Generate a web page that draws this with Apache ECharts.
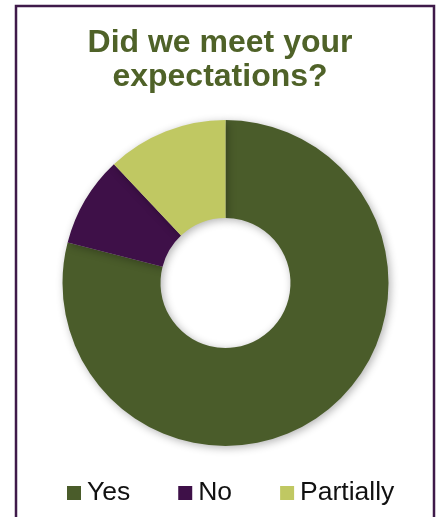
<!DOCTYPE html>
<html>
<head>
<meta charset="utf-8">
<script src="https://cdn.jsdelivr.net/npm/echarts@6/dist/echarts.min.js"></script>
<style>
html,body{margin:0;padding:0;background:#fff;}
#chart{width:440px;height:517px;}
</style>
</head>
<body>
<div id="chart"></div>
<script>
const categories = ['Yes', 'No', 'Partially'];
const values = [79, 9, 12];
const colors = ['#4A5C2A', '#3E1048', '#C0C862'];
const titleText = 'Did we meet your\nexpectations?';

const chart = echarts.init(document.getElementById('chart'), null, {renderer: 'canvas'});
chart.setOption({
  animation: false,
  backgroundColor: '#fff',
  title: {
    text: titleText,
    left: 'center',
    top: 26,
    padding: 0,
    textStyle: {
      color: '#4F6228',
      fontFamily: 'Liberation Sans, Arial, sans-serif',
      fontWeight: 'bold',
      fontSize: 32,
      lineHeight: 34
    }
  },
  legend: {
    top: 478,
    left: 67,
    padding: 0,
    itemWidth: 14,
    itemHeight: 14,
    itemGap: 48,
    icon: 'rect',
    data: categories,
    textStyle: {
      color: '#111',
      fontFamily: 'Liberation Sans, Arial, sans-serif',
      fontSize: 26.5,
      lineHeight: 30,
      padding: [0, 0, 0, 1]
    }
  },
  graphic: [{
    type: 'rect',
    shape: {x: 16, y: 6, width: 418, height: 560},
    style: {fill: 'none', stroke: '#3F1A4A', lineWidth: 2.5},
    silent: true,
    z: 100
  }],
  series: [{
    type: 'pie',
    center: [225.5, 283],
    radius: [65, 163],
    startAngle: 90,
    clockwise: true,
    label: {show: false},
    labelLine: {show: false},
    itemStyle: {
      shadowBlur: 8,
      shadowColor: 'rgba(0,0,0,0.3)',
      shadowOffsetX: 2,
      shadowOffsetY: 2
    },
    data: categories.map((c, i) => ({name: c, value: values[i], itemStyle: {color: colors[i]}}))
  }]
});
</script>
</body>
</html>
